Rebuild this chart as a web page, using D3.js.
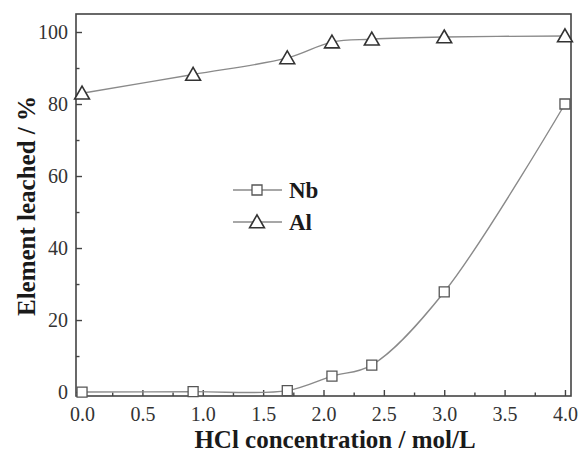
<!DOCTYPE html>
<html>
<head>
<meta charset="utf-8">
<script src="https://cdn.jsdelivr.net/npm/d3@7"></script>
<style>
  body { margin: 0; background: #fff; }
</style>
</head>
<body>
<svg id="chart" width="588" height="453"></svg>
<script>
// data
const hcl = [0, 0.92, 1.7, 2.07, 2.4, 3.0, 4.0];
const nb = [0, 0.1, 0.4, 4.4, 7.5, 27.8, 80];
const al = [83, 88.2, 92.8, 97.2, 98, 98.6, 98.9];
const xTicks = [0, 0.5, 1.0, 1.5, 2.0, 2.5, 3.0, 3.5, 4.0];
const yTicks = [0, 20, 40, 60, 80, 100];

const font = "'Liberation Serif', 'Times New Roman', serif";
const svg = d3.select("#chart");
const pLeft = 76, pRight = 571, pTop = 14, pBottom = 396;

const x = d3.scaleLinear().domain([-0.05, 4.05]).range([pLeft, pRight]);
const y = d3.scaleLinear().domain([-1.1, 105]).range([pBottom, pTop]);

const axisCol = "#444", lineCol = "#8a8a8a", markCol = "#555";

// frame
svg.append("rect")
    .attr("x", pLeft).attr("y", pTop)
    .attr("width", pRight - pLeft).attr("height", pBottom - pTop)
    .attr("fill", "none").attr("stroke", axisCol).attr("stroke-width", 1.6);

// x axis, ticks pointing in
let xa = svg.append("g").attr("transform", `translate(0,${pBottom})`)
    .call(d3.axisBottom(x).tickValues(xTicks).tickFormat(d3.format(".1f"))
        .tickSizeInner(-6).tickSizeOuter(0).tickPadding(11));
xa.select(".domain").remove();
xa.selectAll("line").attr("stroke", axisCol).attr("stroke-width", 1.4);
xa.selectAll("text").attr("font-size", 20).attr("fill", "#333")
    .style("font-family", font);

let xm = svg.append("g").attr("transform", `translate(0,${pBottom})`)
    .call(d3.axisBottom(x).tickValues(d3.range(0.25, 4, 0.5)).tickFormat("")
        .tickSizeInner(-3.5).tickSizeOuter(0));
xm.select(".domain").remove();
xm.selectAll("line").attr("stroke", axisCol).attr("stroke-width", 1.4);

// y axis
let ya = svg.append("g").attr("transform", `translate(${pLeft},0)`)
    .call(d3.axisLeft(y).tickValues(yTicks)
        .tickSizeInner(-6).tickSizeOuter(0).tickPadding(8));
ya.select(".domain").remove();
ya.selectAll("line").attr("stroke", axisCol).attr("stroke-width", 1.4);
ya.selectAll("text").attr("font-size", 20).attr("fill", "#333")
    .style("font-family", font);

let ym = svg.append("g").attr("transform", `translate(${pLeft},0)`)
    .call(d3.axisLeft(y).tickValues([10, 30, 50, 70, 90]).tickFormat("")
        .tickSizeInner(-3.5).tickSizeOuter(0));
ym.select(".domain").remove();
ym.selectAll("line").attr("stroke", axisCol).attr("stroke-width", 1.4);

// axis titles
svg.append("text")
    .attr("x", 335).attr("y", 448)
    .attr("text-anchor", "middle")
    .attr("font-size", 25).attr("font-weight", "bold").attr("fill", "#1a1a1a")
    .style("font-family", font)
    .text("HCl concentration / mol/L");

svg.append("text")
    .attr("transform", "translate(35,206) rotate(-90)")
    .attr("text-anchor", "middle")
    .attr("font-size", 25).attr("font-weight", "bold").attr("fill", "#1a1a1a")
    .style("font-family", font)
    .text("Element leached / %");

// lines
const line = d3.line().x(d => x(d[0])).y(d => y(d[1])).curve(d3.curveCatmullRom.alpha(0.5));
const nbPts = hcl.map((v, i) => [v, nb[i]]);
const alPts = hcl.map((v, i) => [v, al[i]]);

svg.append("path").attr("d", line(nbPts))
    .attr("fill", "none").attr("stroke", lineCol).attr("stroke-width", 1.4);
svg.append("path").attr("d", line(alPts))
    .attr("fill", "none").attr("stroke", lineCol).attr("stroke-width", 1.4);

const sq = d3.symbol().type(d3.symbolSquare).size(100);
const tri = d3.symbol().type(d3.symbolTriangle).size(95);

svg.append("g").selectAll("path").data(nbPts).join("path")
    .attr("d", sq)
    .attr("transform", d => `translate(${x(d[0])},${y(d[1])})`)
    .attr("fill", "#fff").attr("stroke", markCol).attr("stroke-width", 1.3);

svg.append("g").selectAll("path").data(alPts).join("path")
    .attr("d", tri)
    .attr("transform", d => `translate(${x(d[0])},${y(d[1]) + 1.5})`)
    .attr("fill", "#fff").attr("stroke", "#333").attr("stroke-width", 1.6);

// legend
const legend = [
    {name: "Nb", sym: sq, col: markCol, w: 1.3, dy: 0},
    {name: "Al", sym: tri, col: "#333", w: 1.6, dy: 1.5}
];
legend.forEach((l, i) => {
    let ly = 190 + i * 32;
    svg.append("line").attr("x1", 233).attr("x2", 282).attr("y1", ly).attr("y2", ly)
        .attr("stroke", lineCol).attr("stroke-width", 1.4);
    svg.append("path").attr("d", l.sym)
        .attr("transform", `translate(257,${ly + l.dy})`)
        .attr("fill", "#fff").attr("stroke", l.col).attr("stroke-width", l.w);
    svg.append("text").attr("x", 289).attr("y", ly + 8)
        .attr("font-size", 23).attr("font-weight", "bold").attr("fill", "#1a1a1a")
        .style("font-family", font)
        .text(l.name);
});
</script>
</body>
</html>
